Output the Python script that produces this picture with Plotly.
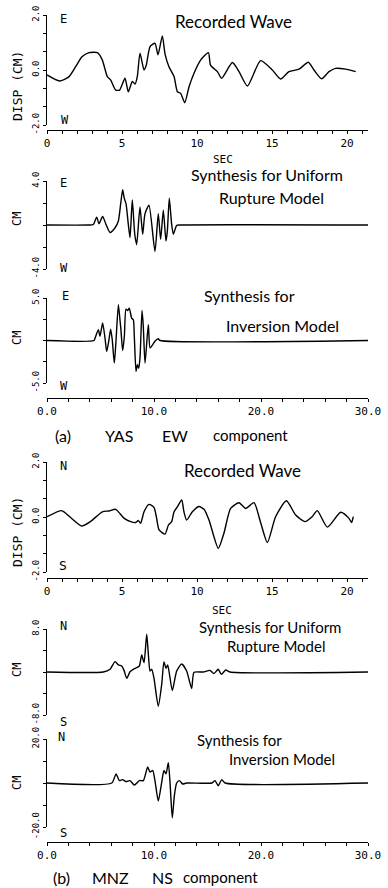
import plotly.graph_objects as go

W, H = 388, 888

# ---------------- data ----------------
# (a) YAS EW recorded wave (cm)
yas_rec_t = [0.0, 0.84, 1.47, 1.91, 2.33, 2.8, 3.36, 3.69, 4.02, 4.24, 4.58, 4.84, 5.2, 5.42, 5.69, 5.87,
             6.02, 6.2, 6.47, 6.62, 6.87, 7.2, 7.4, 7.69, 7.87, 8.13, 8.47, 8.69, 8.91, 9.18, 9.47, 9.8,
             10.24, 10.76, 10.9, 11.36, 11.64, 12.36, 12.8, 13.36, 14.24, 15.02, 15.58, 16.13, 16.8,
             17.42, 17.8, 18.31, 18.8, 19.24, 19.91, 20.58]
yas_rec_v = [-0.18, -0.40, -0.24, 0.12, 0.48, 0.63, 0.63, 0.36, -0.24, -0.36, -0.73, -0.73, -0.30, -0.79, -0.42, -0.51,
             -0.24, 0.61, 0.0, 0.18, 0.85, 0.97, 0.55, 1.24, 0.58, 0.12, -0.24, -0.79, -0.85, -1.19, -0.61, -0.12,
             0.36, 0.63, 0.18, -0.06, -0.30, 0.27, -0.06, -0.58, 0.34, 0.0, -0.33, -0.06, 0.03,
             0.28, 0.0, -0.32, -0.06, 0.06, 0.03, -0.06]

# (a) YAS EW synthesis, uniform rupture model (cm)
yas_uni_t = [0.0, 3.86, 4.33, 4.64, 4.86, 5.2, 5.51, 5.89, 6.36, 6.67, 6.89, 7.07, 7.22, 7.38, 7.6, 7.76,
             7.97, 8.2, 8.38, 8.69, 8.94, 9.16, 9.53, 10.09, 10.4, 10.62, 10.87, 11.12, 11.25, 11.43,
             11.65, 11.81, 12.12, 12.43, 30.0]
yas_uni_v = [0.0, 0.0, 0.05, 0.72, 0.12, 0.78, 0.06, -0.68, -0.25, 0.37, 1.96, 3.2, 2.43, 1.96, 0.06, -1.15,
             2.27, -0.84, -1.78, 1.65, -0.84, 1.03, 1.8, -2.4, 1.03, -1.31, 1.34, -1.46, -0.53, 2.43,
             0.06, -0.84, -0.03, 0.0, 0.0]

# (a) YAS EW synthesis, inversion model (cm)
yas_inv_t = [0.0, 4.39, 4.49, 4.8, 4.95, 5.2, 5.42, 5.58, 5.79, 5.95, 6.1, 6.29, 6.45, 6.67, 6.82, 6.91,
             7.07, 7.23, 7.38, 7.54, 7.69, 7.91, 8.07, 8.16, 8.32, 8.44, 8.57, 8.69, 8.88, 9.0, 9.16,
             9.47, 9.63, 9.88, 10.09, 10.4, 10.56, 30.0]
yas_inv_v = [0.0, 0.0, 0.28, 1.26, 0.5, 2.05, 0.3, -1.29, 0.07, 1.34, 0.07, -2.66, 0.0, 4.2, 2.43, 1.25,
             -1.2, 0.5, 3.69, 3.53, 3.8, 2.64, 2.43, 0.5, -3.65, -2.86, -3.26, -2.08, 3.53, 1.65, -2.66,
             1.85, -0.88, -0.49, -0.1, 0.2, 0.0, 0.0]

# (b) MNZ NS recorded wave (cm)
mnz_rec_t = [0.0, 0.91, 1.13, 2.31, 2.91, 3.69, 4.13, 4.58, 5.13, 5.58, 5.91, 6.09, 6.24, 6.47, 6.8, 7.13,
             7.29, 7.47, 7.87, 8.09, 8.31, 8.47, 8.69, 8.98, 9.13, 9.31, 9.69, 10.13, 10.47, 10.8, 11.42,
             11.8, 12.24, 12.8, 13.24, 13.8, 14.24, 14.69, 15.24, 15.96, 16.58, 17.2, 17.69, 18.02,
             18.69, 19.58, 20.13, 20.31, 20.42]
mnz_rec_v = [0.01, 0.23, 0.19, -0.33, -0.16, 0.19, 0.22, 0.28, -0.04, -0.17, -0.2, -0.13, -0.23, 0.19, 0.46, 0.35,
             0.01, -0.47, -0.62, -0.3, -0.17, 0.19, 0.37, 0.62, 0.19, -0.11, 0.19, 0.38, 0.28, -0.11, -1.14,
             -0.58, 0.31, 0.52, 0.31, 0.52, -0.2, -0.93, 0.01, 0.59, 0.07, -0.17, 0.02, 0.23,
             -0.37, 0.17, -0.05, -0.2, 0.01]

# (b) MNZ NS synthesis, uniform rupture model (cm)
mnz_uni_t = [0.0, 5.26, 5.89, 6.36, 6.67, 6.98, 7.2, 7.45, 7.76, 8.07, 8.38, 8.63, 8.85, 9.07, 9.32, 9.47,
             9.63, 9.79, 9.99, 10.4, 10.72, 10.93, 11.12, 11.28, 11.71, 12.12, 12.59, 13.05, 13.52,
             13.74, 14.6, 15.23, 15.6, 16.0, 16.3, 16.7, 17.1, 30.0]
mnz_uni_v = [0.0, 0.0, 0.5, 1.93, 1.31, 1.12, 0.3, -1.18, 0.06, 0.5, 0.81, 1.12, 3.18, 1.74, 7.05, 3.36,
             0.19, 0.5, -1.06, -6.36, -2.3, 1.93, 0.69, 1.31, -3.43, 0.19, 1.49, 0.19, -3.06,
             -0.06, 0.0, 0.3, -0.31, 0.5, -0.44, 0.37, 0.0, 0.0]

# (b) MNZ NS synthesis, inversion model (cm)
mnz_inv_t = [0.0, 6.05, 6.45, 6.76, 7.07, 7.38, 7.76, 8.16, 8.63, 9.0, 9.41, 9.63, 9.88, 10.09, 10.4, 10.72,
             10.93, 11.12, 11.34, 11.5, 11.71, 11.9, 12.12, 12.37, 12.68, 13.05, 15.4, 15.7, 16.0,
             16.33, 16.64, 30.0]
mnz_inv_v = [0.0, 0.0, 4.16, 1.08, 1.54, 0.6, 1.08, -0.92, 1.08, 1.08, 7.24, 4.93, 5.7, 1.08, -8.16, 0.3,
             5.7, 4.16, 9.24, 0.0, -15.86, -5.85, 0.0, 1.08, -0.46, 0.0, 0.0, 1.08, -1.23,
             1.54, 0.0, 0.0]

# tick definitions
rec_xticks = list(range(0, 22))
rec_xlabels = ["0", "", "", "", "", "5", "", "", "", "", "10", "", "", "", "", "15", "", "", "", "", "20", ""]
syn_xticks = [0, 2, 4, 6, 8, 10, 12, 14, 16, 18, 20, 22, 24, 26, 28, 30]
syn_xlabels = ["0.0", "", "", "", "", "10.0", "", "", "", "", "20.0", "", "", "", "", "30.0"]
rec_yticks = [-2.0, -1.3333, -0.6667, 0.0, 0.6667, 1.3333, 2.0]
rec_ylabels = ["-2.0", "", "", "0.0", "", "", "2.0"]
yas_uni_yticks = [-4.0, -2.0, 0.0, 2.0, 4.0]
yas_uni_ylabels = ["-4.0", "", "", "", "4.0"]
yas_inv_yticks = [-5.0, -2.5, 0.0, 2.5, 5.0]
yas_inv_ylabels = ["-5.0", "", "", "", "5.0"]
mnz_uni_yticks = [-8.0, -4.0, 0.0, 4.0, 8.0]
mnz_uni_ylabels = ["-8.0", "", "", "", "8.0"]
mnz_inv_yticks = [-20.0, -10.0, 0.0, 10.0, 20.0]
mnz_inv_ylabels = ["-20.0", "", "", "", "20.0"]


# ---------------- layout helpers ----------------
def px(x):
    return x / W


def py(y):
    return 1 - y / H


MONO = "DejaVu Sans Mono"
HAND = "Lato"
X0, X1 = 47, 368

panels = [
    # t, v, yrange, ytop, ybot, yticks, ylabels, xrange, xaxis_y, xticks, xlabels
    (yas_rec_t, yas_rec_v, [-2, 2], 15, 125, rec_yticks, rec_ylabels, [0, 21.4], 130, rec_xticks, rec_xlabels),
    (yas_uni_t, yas_uni_v, [-4, 4], 181, 269, yas_uni_yticks, yas_uni_ylabels, [0, 30], None, None, None),
    (yas_inv_t, yas_inv_v, [-5, 5], 298, 383, yas_inv_yticks, yas_inv_ylabels, [0, 30], 398, syn_xticks, syn_xlabels),
    (mnz_rec_t, mnz_rec_v, [-2, 2], 462, 572, rec_yticks, rec_ylabels, [0, 21.4], 578, rec_xticks, rec_xlabels),
    (mnz_uni_t, mnz_uni_v, [-8, 8], 629, 715, mnz_uni_yticks, mnz_uni_ylabels, [0, 30], None, None, None),
    (mnz_inv_t, mnz_inv_v, [-20, 20], 739, 827, mnz_inv_yticks, mnz_inv_ylabels, [0, 30], 842, syn_xticks, syn_xlabels),
]

fig = go.Figure()
layout = {}
for i, (t, v, yr, ytop, ybot, ytv, ytt, xr, xay, xtv, xtt) in enumerate(panels, start=1):
    xa = "x" if i == 1 else f"x{i}"
    ya = "y" if i == 1 else f"y{i}"
    fig.add_trace(go.Scatter(x=t, y=v, mode="lines", xaxis=xa, yaxis=ya,
                             line=dict(color="black", width=1.4, shape="spline", smoothing=0.6),
                             showlegend=False, hoverinfo="skip"))
    xkey = "xaxis" if i == 1 else f"xaxis{i}"
    ykey = "yaxis" if i == 1 else f"yaxis{i}"
    xdict = dict(domain=[px(X0), px(X1)], range=xr, anchor="free", automargin=False,
                 showgrid=False, zeroline=False, fixedrange=True)
    if xay is None:
        xdict.update(visible=False, position=py(ybot))
    else:
        xdict.update(position=py(xay), showline=True, linecolor="black", linewidth=1,
                     ticks="outside", ticklen=3, tickwidth=1, tickcolor="black",
                     tickmode="array", tickvals=xtv, ticktext=xtt,
                     tickfont=dict(family=MONO, size=11, color="black"))
    layout[xkey] = xdict
    layout[ykey] = dict(domain=[py(ybot), py(ytop)], range=yr, anchor=xa, automargin=False,
                        showline=True, linecolor="black", linewidth=1, mirror=False,
                        ticks="outside", ticklen=3, tickwidth=1, tickcolor="black",
                        tickmode="array", tickvals=ytv, ticktext=ytt, tickangle=-90,
                        tickfont=dict(family=MONO, size=9, color="black"),
                        showgrid=False, zeroline=False, fixedrange=True)

texts = [
    ("E", 63, 19, MONO, 12), ("W", 65, 120, MONO, 12),
    ("Recorded Wave", 233, 21, HAND, 17),
    ("SEC", 223, 159, MONO, 11),
    ("E", 63, 183, MONO, 12), ("W", 64, 268, MONO, 12),
    ("Synthesis for Uniform", 267, 174, HAND, 16), ("Rupture Model", 271, 197, HAND, 16),
    ("E", 65, 296, MONO, 12), ("W", 64, 386, MONO, 12),
    ("Synthesis for", 249, 295, HAND, 16), ("Inversion Model", 282, 325, HAND, 16),
    ("(a)", 63, 435, HAND, 16), ("YAS", 119, 435, HAND, 16), ("EW", 175, 435, HAND, 16),
    ("component", 250, 435, HAND, 15),
    ("N", 63, 466, MONO, 12), ("S", 63, 565, MONO, 13),
    ("Recorded Wave", 242, 471, HAND, 17),
    ("SEC", 222, 610, MONO, 11),
    ("N", 63, 626, MONO, 12), ("S", 63, 722, MONO, 12),
    ("Synthesis for Uniform", 270, 627, HAND, 15), ("Rupture Model", 276, 646, HAND, 15),
    ("N", 62, 737, MONO, 12), ("S", 63, 833, MONO, 12),
    ("Synthesis for", 239, 740, HAND, 15), ("Inversion Model", 282, 759, HAND, 15),
    ("(b)", 61, 877, HAND, 16), ("MNZ", 110, 877, HAND, 16), ("NS", 162, 877, HAND, 16),
    ("component", 220, 877, HAND, 15),
]
annotations = []
for s, x, y, fam, sz in texts:
    annotations.append(dict(text=s, x=px(x), y=py(y), xref="paper", yref="paper",
                            xanchor="center", yanchor="middle", showarrow=False,
                            font=dict(family=fam, size=sz, color="black")))
ytitles = [("DISP (CM)", 86, 13), ("CM", 219, 12), ("CM", 338, 12), ("DISP (CM)", 532, 13),
           ("CM", 670, 12), ("CM", 783, 12)]
for s, y, sz in ytitles:
    annotations.append(dict(text=s, x=px(17), y=py(y), xref="paper", yref="paper",
                            xanchor="center", yanchor="middle", showarrow=False, textangle=-90,
                            font=dict(family=MONO, size=sz, color="black")))

fig.update_layout(width=W, height=H, margin=dict(l=0, r=0, t=0, b=0, autoexpand=False),
                  paper_bgcolor="white", plot_bgcolor="white",
                  annotations=annotations, **layout)

fig.write_html("out.html", config={"displayModeBar": False},
               post_script="document.body.style.margin='0';document.body.style.overflow='hidden';")
